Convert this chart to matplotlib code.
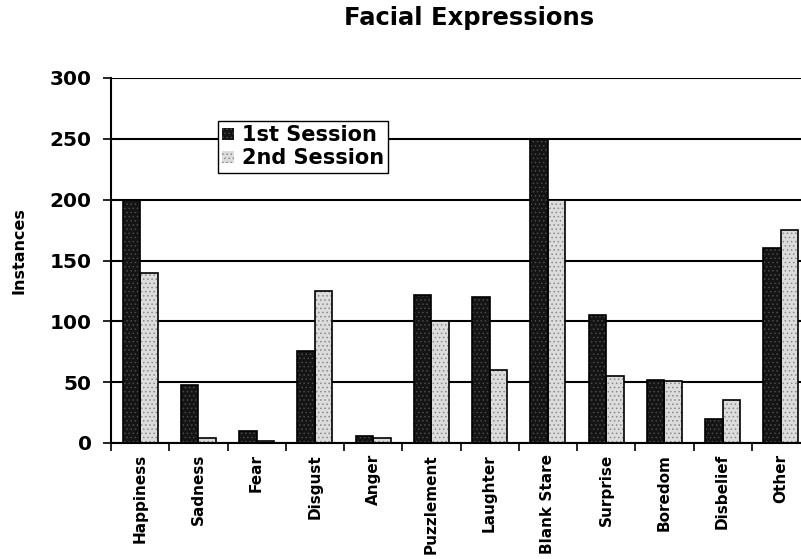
import matplotlib
matplotlib.use("Agg")
import matplotlib.pyplot as plt
import numpy as np

categories = ["Happiness", "Sadness", "Fear", "Disgust", "Anger", "Puzzlement",
              "Laughter", "Blank Stare", "Surprise", "Boredom", "Disbelief", "Other"]
session1 = [200, 48, 10, 76, 6, 122, 120, 250, 105, 52, 20, 160]
session2 = [140, 4, 2, 125, 4, 100, 60, 200, 55, 51, 35, 175]
yticks = [0, 50, 100, 150, 200, 250, 300]

plt.rcParams['font.family'] = ['DejaVu Sans']
plt.rcParams['hatch.linewidth'] = 0.6

fig = plt.figure(figsize=(8.01, 5.59), dpi=100)
ax = fig.add_axes([111/801, 116/559, 699/801, 365/559])

x = np.arange(len(categories))
w = 0.3
b1 = ax.bar(x - w/2, session1, w, facecolor='#141414', edgecolor='#4a4a4a',
            hatch='....', linewidth=0, label='1st Session', zorder=2)
b2 = ax.bar(x + w/2, session2, w, facecolor='#dcdcdc', edgecolor='#8a8a8a',
            hatch='....', linewidth=0, label='2nd Session', zorder=2)
ax.bar(x - w/2, session1, w, fill=False, edgecolor='black', linewidth=1.2, zorder=3)
ax.bar(x + w/2, session2, w, fill=False, edgecolor='black', linewidth=1.2, zorder=3)

ax.set_xlim(-0.5, len(categories) - 0.5)
ax.set_ylim(0, 300)
ax.set_yticks(yticks)
ax.set_yticklabels([str(t) for t in yticks], fontsize=14.5, fontweight='bold')
ax.yaxis.grid(True, color='black', linewidth=1.5)
ax.set_axisbelow(True)

ax.set_xticks(x)
ax.set_xticklabels(categories, rotation=90, fontsize=11, fontweight='bold')
ax.tick_params(axis='x', length=0, pad=8)
ax.set_xticks(np.arange(len(categories) + 1) - 0.5, minor=True)
ax.tick_params(axis='x', which='minor', length=6, width=1.2, direction='out')
ax.tick_params(axis='y', length=6, width=1.2, direction='out', pad=8)

for s in ['top', 'right']:
    ax.spines[s].set_visible(False)
ax.spines['left'].set_linewidth(1.5)
ax.spines['bottom'].set_linewidth(1.5)

fig.text(19/801, 1 - 251/559, 'Instances', rotation=90, ha='center', va='center',
         fontsize=11.5, fontweight='bold')

fig.text(469/801, 1 - 18/559, 'Facial Expressions', ha='center', va='center',
         fontsize=17.5, fontweight='bold')

leg = ax.legend(handles=[b1, b2], loc='upper left', bbox_to_anchor=(0.153, 0.882),
                prop={'weight': 'bold', 'size': 15}, frameon=True, fancybox=False,
                borderpad=0.2, handlelength=0.55, handleheight=0.55, handletextpad=0.4,
                labelspacing=0.15, borderaxespad=0)
leg.get_frame().set_edgecolor('black')
leg.get_frame().set_linewidth(1.0)
leg.get_frame().set_alpha(1)
leg.set_zorder(5)

fig.savefig('out.png', dpi=100)
